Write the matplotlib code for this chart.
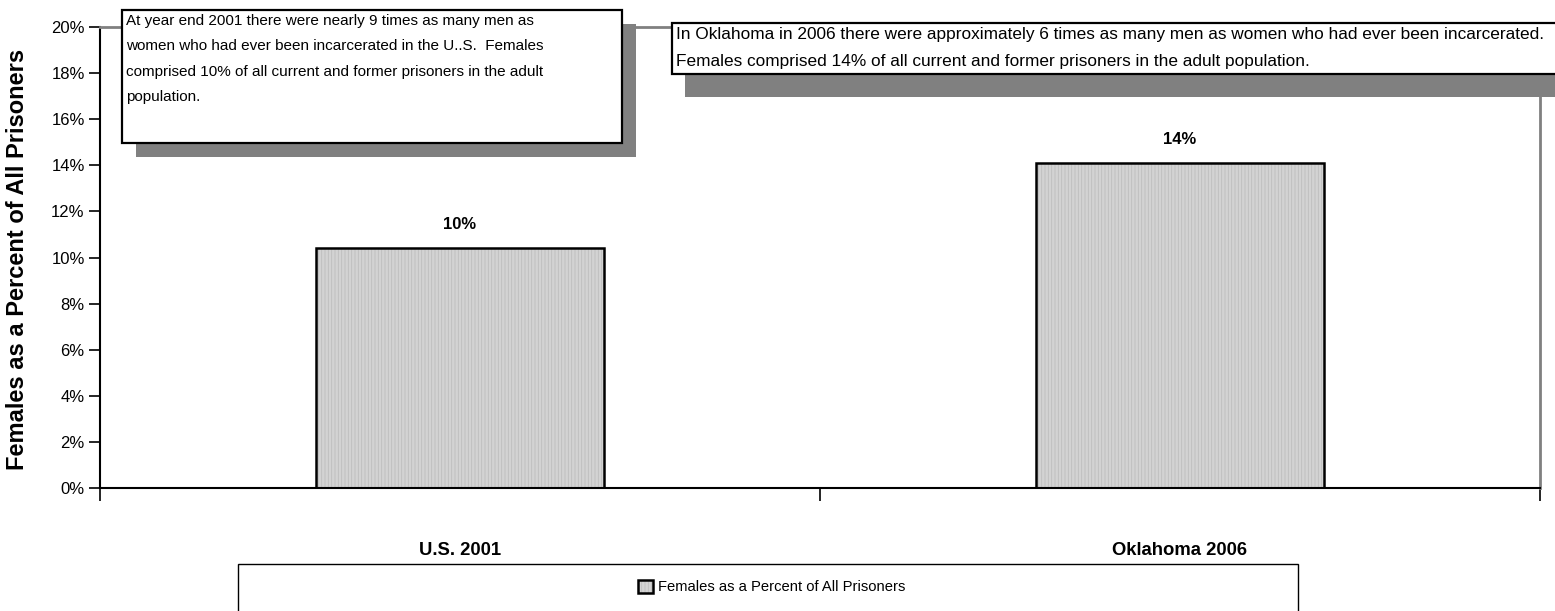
import matplotlib
matplotlib.use('Agg')
import matplotlib.pyplot as plt
from matplotlib.patches import Rectangle
from matplotlib.legend_handler import HandlerTuple
from matplotlib.ticker import FixedLocator, FuncFormatter

categories = ['U.S. 2001', 'Oklahoma 2006']
female_pct = [10.4, 14.1]
bar_labels = ['10%', '14%']
series_name = 'Females as a Percent of All Prisoners'
y_label = 'Females as a Percent of All Prisoners'
y_ticks = [0, 2, 4, 6, 8, 10, 12, 14, 16, 18, 20]
note_us = ("At year end 2001 there were nearly 9 times as many men as\n"
           "women who had ever been incarcerated in the U..S.  Females\n"
           "comprised 10% of all current and former prisoners in the adult\n"
           "population.")
note_ok = ("In Oklahoma in 2006 there were approximately 6 times as many men as women who had ever been incarcerated.\n"
           "Females comprised 14% of all current and former prisoners in the adult population.")

NARROW = ['Liberation Sans', 'DejaVu Sans']
WIDE = ['Liberation Sans', 'DejaVu Sans']
plt.rcParams['hatch.linewidth'] = 0.6

W, H = 1555, 611
fig = plt.figure(figsize=(W / 100, H / 100), dpi=100)


def fx(px):
    return px / W


def fy(py):
    return 1 - py / H


ax = fig.add_axes([fx(100), fy(488), fx(1540) - fx(100), fy(27) - fy(488)])
xs = list(range(len(categories)))
b_fill = ax.bar(xs, female_pct, width=0.4, color='#d3d3d3', edgecolor='#bdbdbd',
                hatch='|||||', linewidth=0, zorder=2)
b_edge = ax.bar(xs, female_pct, width=0.4, fill=False, edgecolor='black',
                linewidth=1.8, zorder=3)
for xv, v, lab in zip(xs, female_pct, bar_labels):
    ax.annotate(lab, (xv, v), xytext=(0, 17), textcoords='offset points',
                ha='center', va='center', fontsize=12, fontweight='bold',
                family=NARROW)

ax.set_xlim(-0.5, len(categories) - 0.5)
ax.set_ylim(0, 20)
ax.yaxis.set_major_locator(FixedLocator(y_ticks))
ax.yaxis.set_major_formatter(FuncFormatter(lambda v, p: f'{v:.0f}%'))
ax.tick_params(axis='y', direction='out', length=8, width=1.2, pad=3,
               labelsize=12)
for t in ax.get_yticklabels():
    t.set_family(NARROW)

ax.set_xticks([i - 0.5 for i in range(len(categories) + 1)])
ax.set_xticklabels([])
ax.set_xticks(xs, minor=True)
ax.set_xticklabels(categories, minor=True, fontsize=13.3, fontweight='bold',
                   family=NARROW)
ax.tick_params(axis='x', which='major', direction='out', length=9, width=1.2)
ax.tick_params(axis='x', which='minor', length=0, pad=39)

for s in ['left', 'bottom']:
    ax.spines[s].set_color('black')
    ax.spines[s].set_linewidth(1.5)
for s in ['top', 'right']:
    ax.spines[s].set_color('#808080')
    ax.spines[s].set_linewidth(2)

fig.text(fx(18), fy(259), y_label, rotation=90, ha='center', va='center',
         fontsize=17, fontweight='bold', family=WIDE)


# annotation boxes with drop shadows
def note_box(x0, y0, x1, y1, dx, dy, text, tx, ty, fs, ls):
    fig.add_artist(Rectangle((fx(x0 + dx), fy(y1 + dy)), fx(x1 - x0), fy(y0) - fy(y1),
                             transform=fig.transFigure, facecolor='#808080',
                             edgecolor='none', zorder=10))
    fig.add_artist(Rectangle((fx(x0), fy(y1)), fx(x1 - x0), fy(y0) - fy(y1),
                             transform=fig.transFigure, facecolor='white',
                             edgecolor='black', linewidth=1.6, zorder=11))
    fig.text(fx(tx), fy(ty), text, ha='left', va='top', fontsize=fs,
             family=NARROW, linespacing=ls, zorder=12)


note_box(122, 10, 622, 143, 14, 14, note_us, 126, 14, 11, 2.03)
note_box(672, 23, 1575, 74, 13, 23, note_ok, 676, 27, 12.4, 1.98)

# legend
fig.add_artist(Rectangle((fx(238), fy(612)), fx(1298 - 238), fy(564) - fy(612),
                         transform=fig.transFigure, facecolor='white',
                         edgecolor='black', linewidth=1.0, zorder=1))
leg = fig.legend([(b_fill[0], b_edge[0])], [series_name],
                 handler_map={tuple: HandlerTuple(ndivide=1)},
                 loc='center', bbox_to_anchor=(fx(772), fy(587)),
                 frameon=False, handlelength=1.0, handleheight=1.0,
                 handletextpad=0.35, prop={'family': NARROW, 'size': 10.6})
leg.set_zorder(5)

fig.savefig('out.png', dpi=100)
